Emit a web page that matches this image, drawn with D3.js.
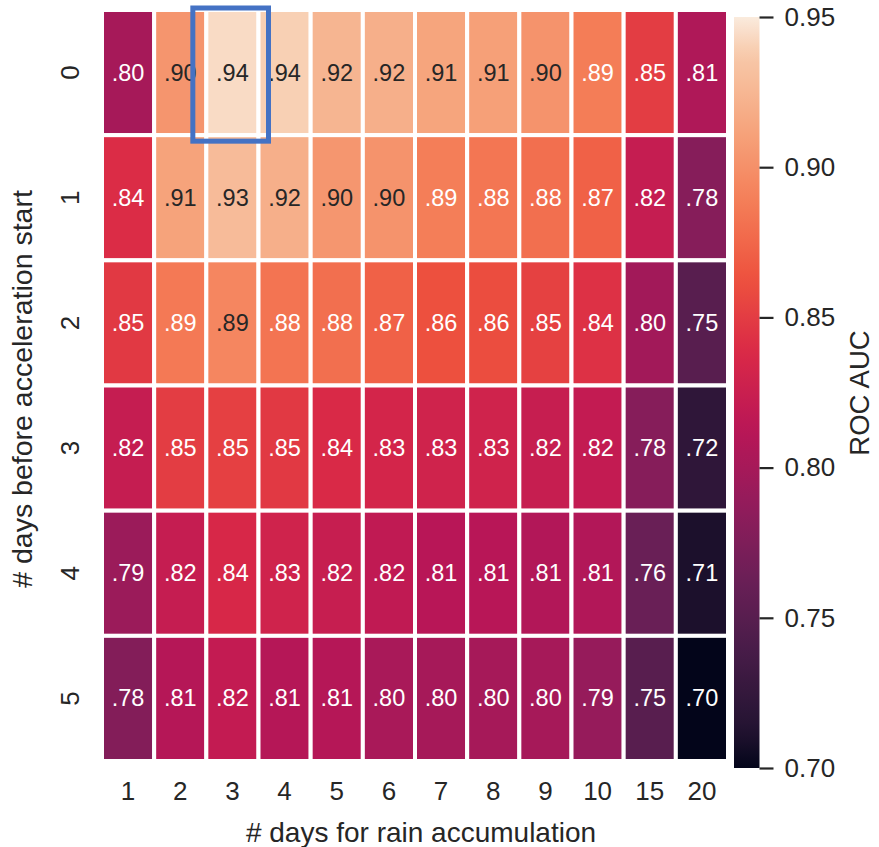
<!DOCTYPE html>
<html>
<head>
<meta charset="utf-8">
<script src="https://cdn.jsdelivr.net/npm/d3@7"></script>
<style>
  body { margin: 0; background: #fff; }
  svg { display: block; font-family: "Liberation Sans", Arial, sans-serif; }
</style>
</head>
<body>
<svg id="chart" width="879" height="847"></svg>
<script>
// rows: # days before acceleration start, cols: # days for rain accumulation
const rowLabels = ["0", "1", "2", "3", "4", "5"];
const colLabels = ["1", "2", "3", "4", "5", "6", "7", "8", "9", "10", "15", "20"];

const row0 = [0.800, 0.903, 0.944, 0.940, 0.924, 0.920, 0.913, 0.910, 0.902, 0.888, 0.850, 0.806];
const row1 = [0.840, 0.912, 0.928, 0.920, 0.904, 0.902, 0.889, 0.884, 0.880, 0.872, 0.822, 0.780];
const row2 = [0.848, 0.886, 0.894, 0.883, 0.880, 0.872, 0.862, 0.860, 0.853, 0.843, 0.798, 0.750];
const row3 = [0.822, 0.850, 0.852, 0.848, 0.838, 0.833, 0.830, 0.830, 0.823, 0.820, 0.780, 0.722];
const row4 = [0.793, 0.822, 0.836, 0.830, 0.823, 0.818, 0.812, 0.812, 0.808, 0.808, 0.762, 0.710];
const row5 = [0.778, 0.810, 0.820, 0.810, 0.810, 0.802, 0.800, 0.800, 0.800, 0.790, 0.750, 0.700];
const rows = [row0, row1, row2, row3, row4, row5];

const cbarTicks = [0.70, 0.75, 0.80, 0.85, 0.90, 0.95];
const highlight = { row: "0", col: "3" };

// rocket colormap (approximate)
const rocket = ["#03051a", "#221331", "#451c47", "#6a1f56", "#921c5b", "#b91657",
                "#d92847", "#ed513e", "#f47c56", "#f6a47c", "#f7c9aa", "#faebdd"];
const rocketPos = [0, 0.05, 0.15, 0.25, 0.35, 0.45, 0.55, 0.65, 0.75, 0.85, 0.95, 1];

const vmin = 0.70, vmax = 0.95;
const norm = d3.scaleLinear().domain([vmin, vmax]).range([0, 1]).clamp(true);
const cmap = d3.scaleLinear().domain(rocketPos).range(rocket).interpolate(d3.interpolateRgb);
const color = v => cmap(norm(v));

function luminance(c) {
  const rgb = d3.rgb(c);
  const lin = [rgb.r, rgb.g, rgb.b].map(v => {
    v /= 255;
    return v <= 0.03928 ? v / 12.92 : Math.pow((v + 0.055) / 1.055, 2.4);
  });
  return 0.2126 * lin[0] + 0.7152 * lin[1] + 0.0722 * lin[2];
}

const textDark = "#262626";
const svg = d3.select("#chart");

const x = d3.scaleBand().domain(colLabels).range([102, 728]);
const y = d3.scaleBand().domain(rowLabels).range([10, 761]);

const cells = [];
rows.forEach((vals, i) => vals.forEach((v, j) => cells.push({ r: rowLabels[i], c: colLabels[j], v })));

const fmt = v => d3.format(".2f")(v).replace(/^0/, "");

const g = svg.append("g");
g.selectAll("rect.cell")
  .data(cells)
  .enter()
  .append("rect")
  .attr("class", "cell")
  .attr("x", d => x(d.c))
  .attr("y", d => y(d.r))
  .attr("width", x.bandwidth())
  .attr("height", y.bandwidth())
  .attr("fill", d => color(d.v))
  .attr("stroke", "#fff")
  .attr("stroke-width", 4);

g.selectAll("text.annot")
  .data(cells)
  .enter()
  .append("text")
  .attr("class", "annot")
  .attr("x", d => x(d.c) + x.bandwidth() / 2)
  .attr("y", d => y(d.r) + y.bandwidth() / 2)
  .attr("text-anchor", "middle")
  .attr("dominant-baseline", "central")
  .attr("font-size", 23.5)
  .attr("fill", d => luminance(color(d.v)) > 0.365 ? textDark : "#fff")
  .text(d => fmt(d.v));

// highlighted cell
svg.append("rect")
  .attr("x", x(highlight.col) - 13.5)
  .attr("y", y(highlight.row) - 2)
  .attr("width", x.bandwidth() + 23.5)
  .attr("height", y.bandwidth() + 8)
  .attr("fill", "none")
  .attr("stroke", "#4472c4")
  .attr("stroke-width", 5);

// x axis
const xAxis = svg.append("g")
  .attr("transform", "translate(0,761)")
  .call(d3.axisBottom(x).tickSize(0).tickPadding(21));
xAxis.select(".domain").remove();
xAxis.selectAll("text").attr("font-size", 26).attr("fill", textDark)
  .attr("font-family", "Liberation Sans, Arial, sans-serif");

// y axis (vertical labels)
const yAxis = svg.append("g")
  .attr("transform", "translate(102,0)")
  .call(d3.axisLeft(y).tickSize(0).tickPadding(0));
yAxis.select(".domain").remove();
yAxis.selectAll("text")
  .attr("x", null).attr("dy", null)
  .attr("text-anchor", "middle")
  .attr("transform", "translate(-23,0) rotate(-90)")
  .attr("font-size", 26).attr("fill", textDark)
  .attr("font-family", "Liberation Sans, Arial, sans-serif");

svg.append("text")
  .attr("x", 421).attr("y", 842)
  .attr("text-anchor", "middle")
  .attr("font-size", 28).attr("fill", textDark)
  .text("# days for rain accumulation");

svg.append("text")
  .attr("transform", "translate(32,389) rotate(-90)")
  .attr("text-anchor", "middle")
  .attr("font-size", 28.5).attr("fill", textDark)
  .text("# days before acceleration start");

// colorbar
const cy = d3.scaleLinear().domain([vmin, vmax]).range([768, 17]);
const defs = svg.append("defs");
const grad = defs.append("linearGradient").attr("id", "cbar")
  .attr("x1", 0).attr("y1", 1).attr("x2", 0).attr("y2", 0);
d3.range(0, 1.0001, 0.02).forEach(t => {
  grad.append("stop").attr("offset", t).attr("stop-color", cmap(t));
});
svg.append("rect")
  .attr("x", 734).attr("y", cy(vmax))
  .attr("width", 25.5).attr("height", cy(vmin) - cy(vmax))
  .attr("fill", "url(#cbar)");

const cAxis = svg.append("g")
  .attr("transform", "translate(759.5,0)")
  .call(d3.axisRight(cy).tickValues(cbarTicks).tickFormat(d3.format(".2f")).tickSize(14).tickPadding(11));
cAxis.select(".domain").remove();
cAxis.selectAll(".tick line").attr("stroke", textDark).attr("stroke-width", 2.2);
cAxis.selectAll("text").attr("font-size", 26).attr("fill", textDark)
  .attr("font-family", "Liberation Sans, Arial, sans-serif");

svg.append("text")
  .attr("transform", "translate(869,393) rotate(-90)")
  .attr("text-anchor", "middle")
  .attr("font-size", 27.5).attr("fill", textDark)
  .text("ROC AUC");
</script>
</body>
</html>
